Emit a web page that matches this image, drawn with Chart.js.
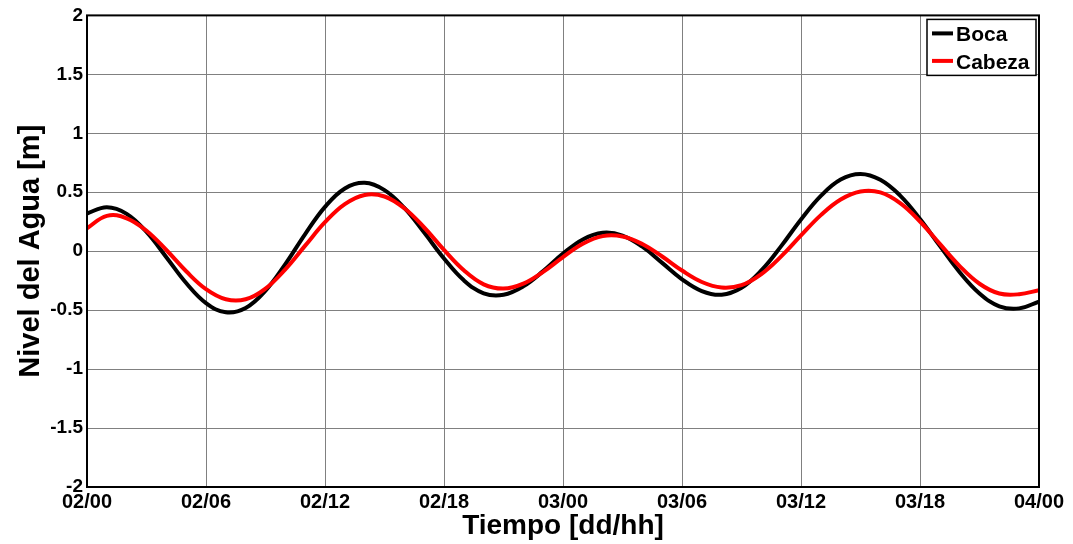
<!DOCTYPE html>
<html>
<head>
<meta charset="utf-8">
<script src="https://cdn.jsdelivr.net/npm/chart.js@4.4.1/dist/chart.umd.min.js"></script>
<style>
  html, body { margin: 0; padding: 0; background: #fff; }
  #wrap { width: 1073px; height: 544px; }
</style>
</head>
<body>
<div id="wrap"><canvas id="myChart" width="1073" height="544"></canvas></div>
<script>
// hours since 02/00
var horas = [0,1,2,3,4,5,6,7,8,9,10,11,12,13,14,15,16,17,18,19,20,21,22,23,24,
             25,26,27,28,29,30,31,32,33,34,35,36,37,38,39,40,41,42,43,44,45,46,47,48];

var boca = [0.32,0.373,0.317,0.163,-0.051,-0.27,-0.44,-0.518,-0.482,-0.335,-0.11,0.145,0.376,0.532,0.58,
            0.518,0.367,0.158,-0.062,-0.247,-0.357,-0.369,-0.298,-0.169,-0.021,0.1,0.156,0.133,0.038,
            -0.099,-0.238,-0.338,-0.369,-0.31,-0.163,0.043,0.269,0.469,0.608,0.655,0.606,0.472,0.274,
            0.045,-0.178,-0.358,-0.467,-0.485,-0.427];

var cabeza = [0.195,0.3,0.279,0.173,0.01,-0.17,-0.322,-0.408,-0.408,-0.317,-0.154,0.047,0.246,0.399,0.477,
              0.464,0.364,0.201,0.011,-0.162,-0.281,-0.317,-0.275,-0.175,-0.05,0.063,0.128,0.125,0.061,
              -0.045,-0.164,-0.261,-0.308,-0.288,-0.194,-0.044,0.134,0.306,0.439,0.507,0.499,0.408,0.252,
              0.062,-0.126,-0.276,-0.359,-0.365,-0.33];

var xTicks = [0,6,12,18,24,30,36,42,48];
var xTickLabels = ['02/00','02/06','02/12','02/18','03/00','03/06','03/12','03/18','04/00'];

function pares(ys){
  return horas.map(function(h,i){ return {x:h, y:ys[i]}; });
}

// black frame around the plot
var marco = {
  id: 'marco',
  afterDraw: function(chart){
    var a = chart.chartArea, ctx = chart.ctx;
    ctx.save();
    ctx.strokeStyle = '#000';
    ctx.lineWidth = 2;
    ctx.strokeRect(a.left, a.top, a.right - a.left, a.bottom - a.top);
    ctx.restore();
  }
};

// boxed legend in the upper right corner
var leyenda = {
  id: 'leyenda',
  afterDraw: function(chart){
    var ctx = chart.ctx, a = chart.chartArea;
    var x0 = a.right - 112, y0 = a.top + 4, w = 109, h = 56;
    ctx.save();
    ctx.fillStyle = '#fff';
    ctx.fillRect(x0, y0, w, h);
    ctx.strokeStyle = '#000';
    ctx.lineWidth = 1.5;
    ctx.strokeRect(x0, y0, w, h);
    ctx.font = 'bold 21px Arial, "Liberation Sans", sans-serif';
    ctx.textBaseline = 'alphabetic';
    chart.data.datasets.forEach(function(ds, i){
      var yy = y0 + 14 + i * 27.5;
      ctx.strokeStyle = ds.borderColor;
      ctx.lineWidth = 4;
      ctx.beginPath();
      ctx.moveTo(x0 + 5, yy);
      ctx.lineTo(x0 + 26, yy);
      ctx.stroke();
      ctx.fillStyle = '#000';
      ctx.fillText(ds.label, x0 + 29, yy + 8);
    });
    ctx.restore();
  }
};

new Chart(document.getElementById('myChart'), {
  type: 'line',
  data: {
    datasets: [
      {
        label: 'Boca',
        data: pares(boca),
        borderColor: '#000000',
        borderWidth: 4,
        pointRadius: 0,
        tension: 0.4,
        order: 1
      },
      {
        label: 'Cabeza',
        data: pares(cabeza),
        borderColor: '#ff0000',
        borderWidth: 4,
        pointRadius: 0,
        tension: 0.4,
        order: 0
      }
    ]
  },
  options: {
    responsive: false,
    animation: false,
    layout: { padding: { top: 15, right: 34, left: 0, bottom: 0 } },
    plugins: {
      legend: { display: false },
      tooltip: { enabled: false }
    },
    scales: {
      x: {
        type: 'linear',
        min: 0,
        max: 48,
        afterBuildTicks: function(scale){
          scale.ticks = xTicks.map(function(v){ return {value: v}; });
        },
        afterFit: function(scale){ scale.height = 57; },
        ticks: {
          autoSkip: false,
          maxRotation: 0,
          padding: 3,
          color: '#000',
          font: { family: 'Arial, "Liberation Sans", sans-serif', size: 20, weight: 'bold' },
          callback: function(v, i){ return xTickLabels[i]; }
        },
        grid: { color: '#808080', lineWidth: 1, drawTicks: false },
        border: { display: false },
        title: {
          display: true,
          text: 'Tiempo [dd/hh]',
          color: '#000',
          padding: { top: 0, bottom: 1 },
          font: { family: 'Arial, "Liberation Sans", sans-serif', size: 28, weight: 'bold' }
        }
      },
      y: {
        min: -2,
        max: 2,
        afterFit: function(scale){ scale.width = 87; },
        ticks: {
          stepSize: 0.5,
          padding: 4,
          color: '#000',
          font: { family: 'Arial, "Liberation Sans", sans-serif', size: 19, weight: 'bold' },
          callback: function(v){ return String(v); }
        },
        grid: { color: '#808080', lineWidth: 1, drawTicks: false },
        border: { display: false },
        title: {
          display: true,
          text: 'Nivel del Agua [m]',
          color: '#000',
          padding: { top: 14, bottom: 0 },
          font: { family: 'Arial, "Liberation Sans", sans-serif', size: 29, weight: 'bold' }
        }
      }
    }
  },
  plugins: [marco, leyenda]
});
</script>
</body>
</html>
